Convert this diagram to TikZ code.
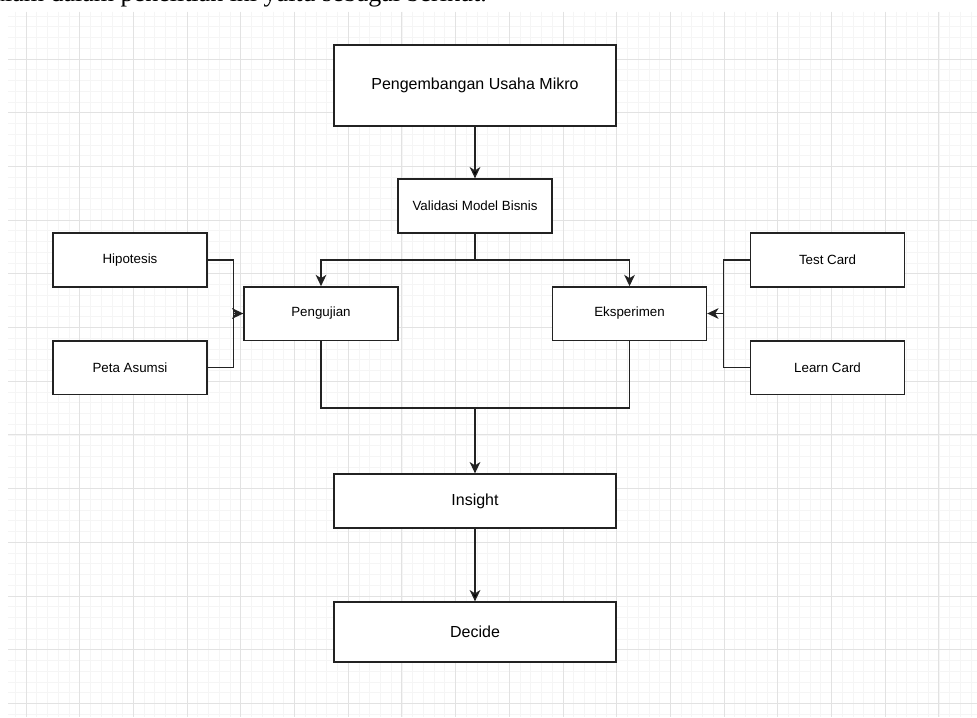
\documentclass[tikz,border=0pt]{standalone}
\usepackage{fontspec}
\setmainfont{Liberation Sans}
\newfontfamily\bodyserif{Liberation Serif}
\usetikzlibrary{positioning,arrows.meta,calc}
\definecolor{gridminor}{RGB}{245,245,245}
\definecolor{gridmajor}{RGB}{226,226,226}
\definecolor{boxline}{RGB}{34,34,34}
\begin{document}
\begin{tikzpicture}[x=0.75pt,y=-0.75pt,on grid,>={Stealth[length=8.5pt,width=8pt,inset=2.5pt]},
		box/.style={rectangle,draw=boxline,fill=white,line width=1pt,minimum width=115.5pt,minimum height=40.5pt,inner sep=0pt,font=\fontsize{10}{12}\selectfont},
		bigbox/.style={box,minimum width=211.5pt,font=\fontsize{12}{14}\selectfont},
		link/.style={draw=boxline,line width=1pt}]
		\useasboundingbox (0,0) rectangle (977,717);
		\fill[white] (0,0) rectangle (977,717);
		
		% grid paper
		\foreach \k in {-1,...,88}
			\draw[gridminor,line width=0.6pt] (26+10.74*\k,12) -- (26+10.74*\k,717);
		\foreach \k in {-4,...,61}
			\draw[gridminor,line width=0.6pt] (8,59+10.74*\k) -- (977,59+10.74*\k);
		\foreach \k in {0,...,17}
			\draw[gridmajor,line width=0.7pt] (26+53.7*\k,12) -- (26+53.7*\k,717);
		\foreach \k in {0,...,12}
			\draw[gridmajor,line width=0.7pt] (8,59+53.7*\k) -- (977,59+53.7*\k);
		
		% cut-off line of the page above
		\begin{scope}
		\clip (0,0) rectangle (977,717);
		\node[anchor=base east,inner sep=0pt,font=\bodyserif\fontsize{19.5}{22}\selectfont] (kalimat) at (487,1.5) {alam dalam penelitian ini yaitu sebagai berikut.};
		\end{scope}
		
		\node[bigbox,minimum height=60.75pt] (usaha) at (475,85.5) {Pengembangan Usaha Mikro};
		\node[box]  (validasi) [below=90.4pt of usaha]  {Validasi Model Bisnis};
		\node[box,minimum height=40pt]  (uji)   [below left=80.6pt and 115.5pt of validasi]  {Pengujian};
		\node[box,minimum height=40pt]  (eksp)  [below right=80.6pt and 115.9pt of validasi] {Eksperimen};
		\node[box]  (hipo)   [above left=40.1pt and 143.25pt of uji]  {Hipotesis};
		\node[box,minimum height=40pt]  (peta)  [below=80.6pt of hipo]  {Peta Asumsi};
		\node[box]  (test)   [above right=40.1pt and 148.5pt of eksp] {Test Card};
		\node[box,minimum height=40pt]  (learn) [below=80.6pt of test]  {Learn Card};
		\node[bigbox] (insight) [below=221.25pt of validasi] {Insight};
		\node[bigbox,minimum height=45pt] (decide) [below=98.25pt of insight] {Decide};
		
		\coordinate (vj) at (validasi.south |- hipo.east);
		\coordinate (hj) at ([xshift=-7.5pt]uji.west);
		\coordinate (tj) at ([xshift=12pt]eksp.east);
		\coordinate (mj) at ([yshift=-50.25pt]uji.south -| insight.north);
		
		\path[->,link]
		(usaha) edge (validasi)
		(insight) edge (decide);
		
		\draw[link] (validasi.south) -- (vj);
		\draw[->,link] (vj) -| (uji.north);
		\draw[->,link] (vj) -| (eksp.north);
		\draw[link] (hipo.east) -| (hj) |- (peta.east);
		\draw[->,link] (hj) -- (uji.west);
		\draw[link] (test.west) -| (tj) |- (learn.west);
		\draw[->,link] (tj) -- (eksp.east);
		\draw[link] (uji.south) |- (mj) -| (eksp.south);
		\draw[->,link] (mj) -- (insight.north);
\end{tikzpicture}
\end{document}
